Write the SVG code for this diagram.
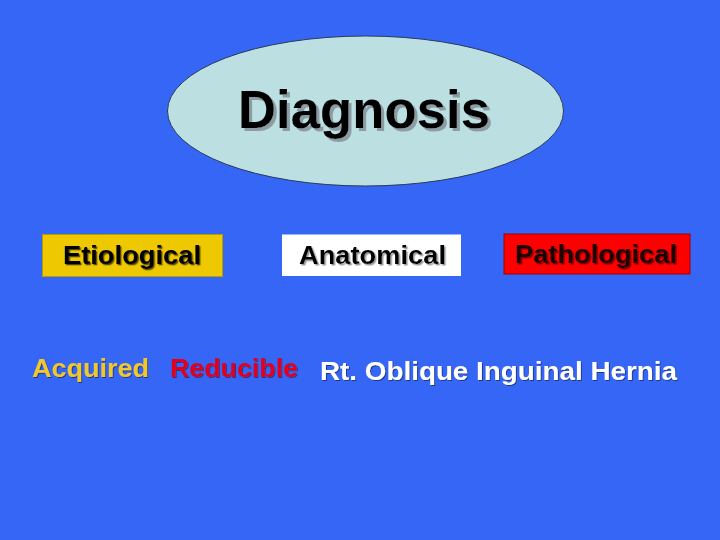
<svg xmlns="http://www.w3.org/2000/svg" width="720" height="540" viewBox="0 0 720 540">
  <defs>
    <filter id="shBig" x="-10%" y="-20%" width="130%" height="150%">
      <feDropShadow dx="3" dy="3" stdDeviation="0.3" flood-color="#8c9ca2" flood-opacity="1"/>
    </filter>
    <filter id="shDark" x="-10%" y="-20%" width="130%" height="150%">
      <feDropShadow dx="1.3" dy="1.3" stdDeviation="0.2" flood-color="#4a3a00" flood-opacity="0.9"/>
    </filter>
    <filter id="shGray" x="-10%" y="-20%" width="130%" height="150%">
      <feDropShadow dx="1.5" dy="1.5" stdDeviation="0.2" flood-color="#9a9a9a" flood-opacity="1"/>
    </filter>
    <filter id="shRed" x="-10%" y="-20%" width="130%" height="150%">
      <feDropShadow dx="1.5" dy="1.5" stdDeviation="0.2" flood-color="#800000" flood-opacity="1"/>
    </filter>
    <filter id="shBlue" x="-10%" y="-20%" width="130%" height="150%">
      <feDropShadow dx="1" dy="1" stdDeviation="0.3" flood-color="#1a2a70" flood-opacity="0.8"/>
    </filter>
  </defs>
  <style>
    .t { font-family: "Liberation Sans", Arial, sans-serif; font-weight: bold; }
    .lbl { font-size: 25.5px; }
  </style>
  <rect x="0" y="0" width="720" height="540" fill="#3566F6"/>
  <g id="connectors"></g>
  <g id="diagnosis">
    <ellipse cx="365.5" cy="111" rx="198" ry="75" fill="#BCDFE2" stroke="#2a3a5a" stroke-width="1"/>
    <text class="t" x="238" y="128" font-size="54" fill="#000000" filter="url(#shBig)" textLength="252" lengthAdjust="spacingAndGlyphs">Diagnosis</text>
  </g>
  <g id="etiological">
    <rect x="42.5" y="234.5" width="180" height="42" fill="#EEC800" stroke="#b89a00" stroke-width="1"/>
    <text class="t lbl" x="63" y="264" fill="#000000" filter="url(#shDark)" textLength="138" lengthAdjust="spacingAndGlyphs">Etiological</text>
  </g>
  <g id="anatomical">
    <rect x="282" y="234.5" width="179" height="41.5" fill="#FFFFFF"/>
    <text class="t lbl" x="299" y="264" fill="#000000" filter="url(#shGray)" textLength="147" lengthAdjust="spacingAndGlyphs">Anatomical</text>
  </g>
  <g id="pathological">
    <rect x="504" y="234" width="186" height="40" fill="#FF0000" stroke="#a00000" stroke-width="1"/>
    <text class="t lbl" x="515" y="263" fill="#1a0000" filter="url(#shRed)" textLength="162" lengthAdjust="spacingAndGlyphs">Pathological</text>
  </g>
  <g id="acquired">
    <text class="t lbl" x="32" y="377" fill="#EFC82A" filter="url(#shBlue)" textLength="117" lengthAdjust="spacingAndGlyphs">Acquired</text>
  </g>
  <g id="reducible">
    <text class="t lbl" x="170" y="377" fill="#E0001E" filter="url(#shBlue)" textLength="128" lengthAdjust="spacingAndGlyphs">Reducible</text>
  </g>
  <g id="hernia">
    <text class="t lbl" x="320" y="380" fill="#FFFFFF" filter="url(#shBlue)" textLength="357" lengthAdjust="spacingAndGlyphs">Rt. Oblique Inguinal Hernia</text>
  </g>
</svg>
